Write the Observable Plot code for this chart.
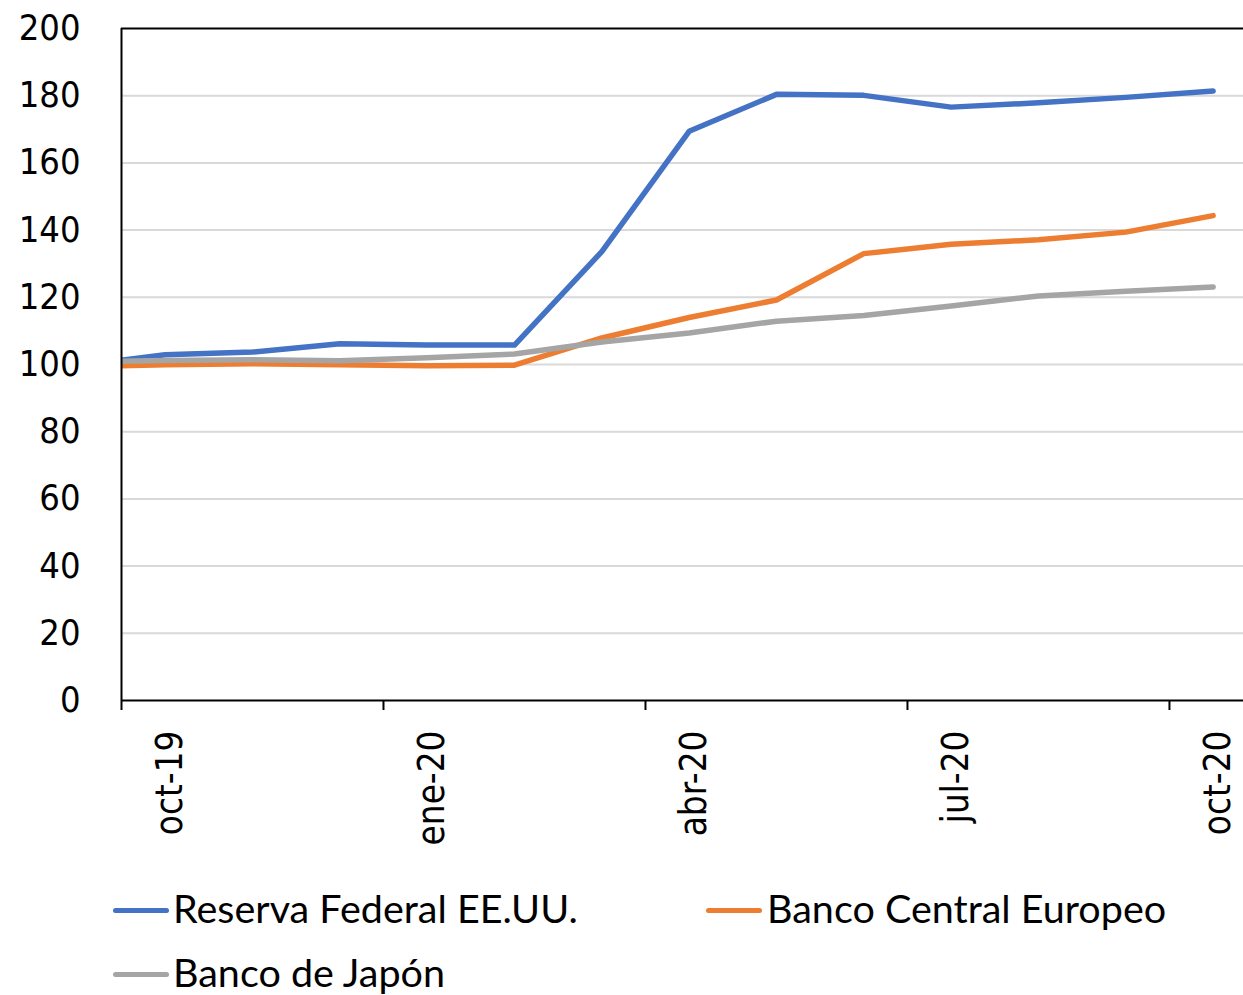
<!DOCTYPE html>
<html>
<head>
<meta charset="utf-8">
<script src="https://cdn.jsdelivr.net/npm/d3@7"></script>
<script src="https://cdn.jsdelivr.net/npm/@observablehq/plot@0.6"></script>
<style>
  html, body { margin: 0; padding: 0; background: #fff; }
  #wrap { position: relative; width: 1243px; height: 995px; overflow: hidden; }
  #chart svg { display: block; }
  .sw { position: absolute; height: 5px; width: 56px; border-radius: 3px; }
  .lt { position: absolute; font-family: Lato, "Noto Sans", sans-serif; font-size: 39.5px; line-height: 40px; color: #000; white-space: nowrap; }
</style>
</head>
<body>
<div id="wrap">
  <div id="chart"></div>
</div>
<script>
// month index: -1 = sep-19 (outside the visible axis, clipped), 0 = oct-19 ... 12 = oct-20
const monthIndex = [-1, 0, 1, 2, 3, 4, 5, 6, 7, 8, 9, 10, 11, 12];
const monthNames = ["sep-19","oct-19","nov-19","dic-19","ene-20","feb-20","mar-20","abr-20","may-20","jun-20","jul-20","ago-20","sep-20","oct-20"];

const seriesNames = ["Reserva Federal EE.UU.", "Banco Central Europeo", "Banco de Japón"];
const seriesColors = ["#4472C4", "#ED7D31", "#A5A5A5"];

const fed = [99.6, 102.9, 103.7, 106.2, 105.8, 105.8, 133.6, 169.4, 180.4, 180.1, 176.6, 177.9, 179.5, 181.4];
const ecb = [99.3, 99.9, 100.2, 99.9, 99.6, 99.8, 107.9, 114.0, 119.2, 133.0, 135.8, 137.1, 139.4, 144.3];
const boj = [100.8, 101.2, 101.4, 101.1, 102.0, 103.1, 106.7, 109.4, 112.9, 114.6, 117.4, 120.4, 121.8, 123.1];

const tickMonths = [0, 3, 6, 9, 12];
const tickLabels = ["oct-19", "ene-20", "abr-20", "jul-20", "oct-20"];
const yTicks = [0, 20, 40, 60, 80, 100, 120, 140, 160, 180, 200];
const gridValues = [20, 40, 60, 80, 100, 120, 140, 160, 180];

const seriesValues = [fed, ecb, boj];
const rows = [];
seriesNames.forEach((name, s) => {
  monthIndex.forEach((m, i) => rows.push({series: name, m, v: seriesValues[s][i], month: monthNames[i]}));
});

const W = 1243, H = 870;
const xLeft = -0.5;
const pxPerMonth = 87.33;
const xRight = xLeft + (W - 121) / pxPerMonth;

const plot = Plot.plot({
  width: W,
  height: H,
  marginLeft: 121,
  marginRight: 0,
  marginTop: 28,
  marginBottom: H - 700,
  style: {fontFamily: "'DejaVu Sans Condensed', 'DejaVu Sans', sans-serif", fontSize: "36px", color: "#000", background: "#fff", overflow: "visible"},
  x: {type: "linear", domain: [xLeft, xRight], axis: null, label: null},
  y: {domain: [0, 200], axis: null, label: null},
  color: {domain: seriesNames, range: seriesColors},
  marks: [
    Plot.ruleY(gridValues, {stroke: "#d9d9d9", strokeWidth: 2}),
    Plot.lineY(rows, {x: "m", y: "v", z: "series", stroke: "series", strokeWidth: 5.5, strokeLinecap: "round", strokeLinejoin: "round", clip: true}),
    Plot.ruleY([200], {stroke: "#000", strokeWidth: 2}),
    Plot.ruleY([0], {stroke: "#000", strokeWidth: 2}),
    Plot.ruleX([xLeft], {stroke: "#000", strokeWidth: 2}),
    Plot.axisY(yTicks, {anchor: "left", tickSize: 0, tickPadding: 41, fontSize: 36, fill: "#000", label: null}),
    Plot.axisX(tickMonths.map(d => d - 0.5), {anchor: "bottom", tickSize: 10, tickFormat: () => "", stroke: "#000", strokeWidth: 2, label: null}),
    Plot.text(tickMonths, {x: d => d, frameAnchor: "bottom", text: (d, i) => tickLabels[i], rotate: -90, textAnchor: "end", lineAnchor: "middle", dy: 30, dx: 5.5, fontSize: 36.5, fill: "#000"})
  ]
});
document.getElementById("chart").appendChild(plot);

// legend
const wrap = document.getElementById("wrap");
const legendPos = [
  {sw: 113, tx: 173, y: 910},
  {sw: 706, tx: 767, y: 910},
  {sw: 113, tx: 173, y: 974}
];
seriesNames.forEach((name, i) => {
  const p = legendPos[i];
  const sw = document.createElement("div");
  sw.className = "sw";
  sw.style.left = p.sw + "px";
  sw.style.top = (p.y - 2.5) + "px";
  sw.style.background = seriesColors[i];
  wrap.appendChild(sw);
  const t = document.createElement("div");
  t.className = "lt";
  t.style.left = p.tx + "px";
  t.style.top = (p.y - 22) + "px";
  t.textContent = name;
  wrap.appendChild(t);
});
</script>
</body>
</html>
